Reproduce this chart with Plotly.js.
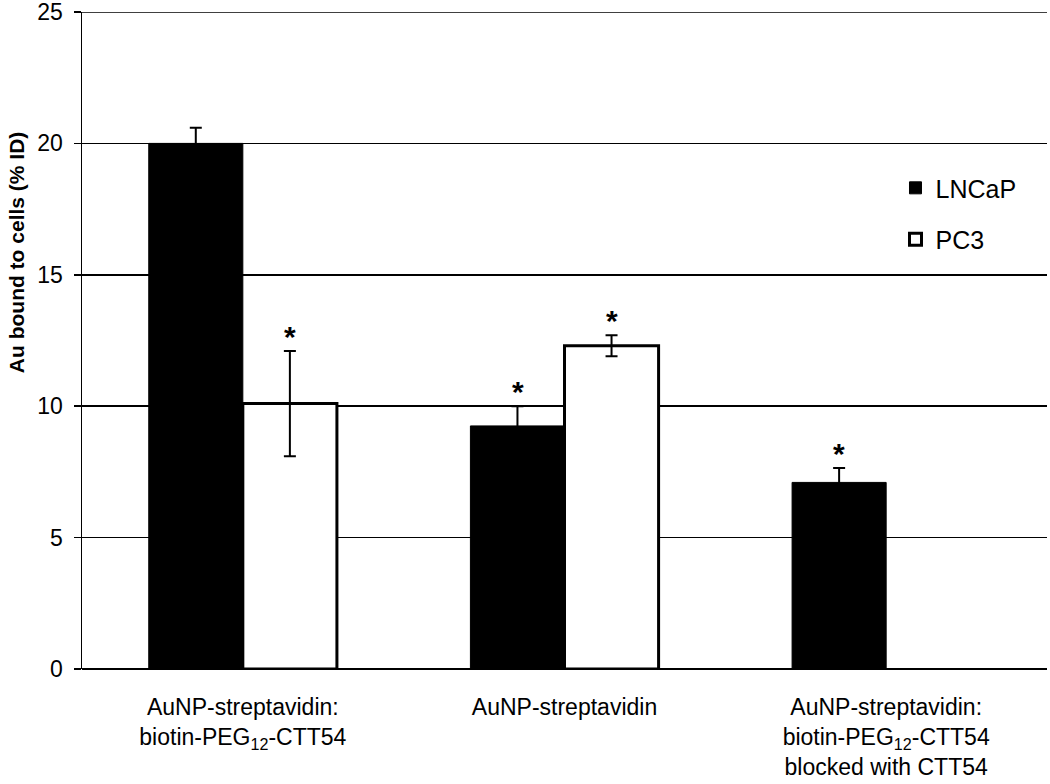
<!DOCTYPE html>
<html>
<head>
<meta charset="utf-8">
<script src="https://cdn.plot.ly/plotly-3.0.1.min.js"></script>
<style>html,body{margin:0;padding:0;background:#fff;}#chart{width:1050px;height:784px;}</style>
</head>
<body>
<div id="chart"></div>
<script>
const categories = [
  "AuNP-streptavidin:<br>biotin-PEG<sub>12</sub>-CTT54",
  "AuNP-streptavidin",
  "AuNP-streptavidin:<br>biotin-PEG<sub>12</sub>-CTT54<br>blocked with CTT54"
];
const seriesNames = ["LNCaP", "PC3"];
const lncapValues = [20.0, 9.25, 7.1];
const lncapErrors = [0.6, 0.75, 0.55];
const pc3Values = [10.1, 12.3, null];
const pc3Errors = [2.0, 0.4, null];
const lncapSignificant = [false, true, true];
const pc3Significant = [true, true, false];
const yTickValues = [0, 5, 10, 15, 20, 25];

const FONT = "Liberation Sans, Arial, sans-serif";

const traces = [
  {
    type: "bar", name: seriesNames[0], x: categories, y: lncapValues,
    marker: {color: "#000000", line: {color: "#000000", width: 1}},
    error_y: {type: "data", array: lncapErrors, visible: true, color: "#000000", thickness: 2, width: 6},
    legendgroup: "a"
  },
  {
    type: "bar", name: seriesNames[1], x: categories, y: pc3Values,
    marker: {color: "#ffffff", line: {color: "#000000", width: 3}},
    error_y: {type: "data", array: pc3Errors, visible: true, color: "#000000", thickness: 2, width: 6},
    legendgroup: "b"
  }
];

const annotations = [];
categories.forEach((c, i) => {
  if (lncapSignificant[i]) {
    annotations.push({x: c, y: lncapValues[i] + lncapErrors[i], xref: "x", yref: "y", xshift: -47, yshift: -4,
      yanchor: "bottom", showarrow: false, text: "<b>*</b>", font: {family: FONT, size: 30, color: "#000"}});
  }
  if (pc3Significant[i]) {
    annotations.push({x: c, y: pc3Values[i] + pc3Errors[i], xref: "x", yref: "y", xshift: 47, yshift: -4,
      yanchor: "bottom", showarrow: false, text: "<b>*</b>", font: {family: FONT, size: 30, color: "#000"}});
  }
});
annotations.push({
  text: "<b>Au bound to cells (% ID)</b>", textangle: -90, showarrow: false,
  xref: "paper", yref: "paper", x: -0.068, y: 0.635, xanchor: "center", yanchor: "middle",
  font: {family: FONT, size: 21, color: "#000"}
});

const topTick = yTickValues[yTickValues.length - 1];

const layout = {
  width: 1050, height: 784,
  margin: {l: 82, r: 3, t: 12, b: 115},
  paper_bgcolor: "#ffffff", plot_bgcolor: "#ffffff",
  barmode: "group", bargap: 0.415, bargroupgap: 0,
  font: {family: FONT, color: "#000"},
  showlegend: true,
  legend: {x: 0.843, y: 0.767, xanchor: "left", yanchor: "top", font: {family: FONT, size: 25, color: "#000"},
    tracegroupgap: 16, traceorder: "grouped", bgcolor: "rgba(0,0,0,0)", itemwidth: 30},
  xaxis: {
    type: "category", showgrid: false, zeroline: false, showline: false, ticks: "",
    tickfont: {family: FONT, size: 23, color: "#000"}, ticklabelstandoff: 22, fixedrange: true
  },
  yaxis: {
    range: [0, topTick], tickvals: yTickValues, ticktext: yTickValues.map(String),
    showgrid: true, gridcolor: "#000000", gridwidth: 1.5,
    zeroline: true, zerolinecolor: "#000000", zerolinewidth: 2,
    showline: true, linecolor: "#000000", linewidth: 1.5,
    ticks: "outside", ticklen: 7, tickcolor: "#000000", tickwidth: 1.5,
    tickfont: {family: FONT, size: 23, color: "#000"}, ticklabelstandoff: 6,
    ticklabeloverflow: "allow", fixedrange: true
  },
  shapes: [{
    type: "line", xref: "paper", yref: "y", x0: 0, x1: 1, y0: topTick, y1: topTick,
    line: {color: "#000000", width: 1.5}, layer: "below"
  }],
  annotations: annotations
};

Plotly.newPlot("chart", traces, layout, {displayModeBar: false, staticPlot: true});
</script>
</body>
</html>
